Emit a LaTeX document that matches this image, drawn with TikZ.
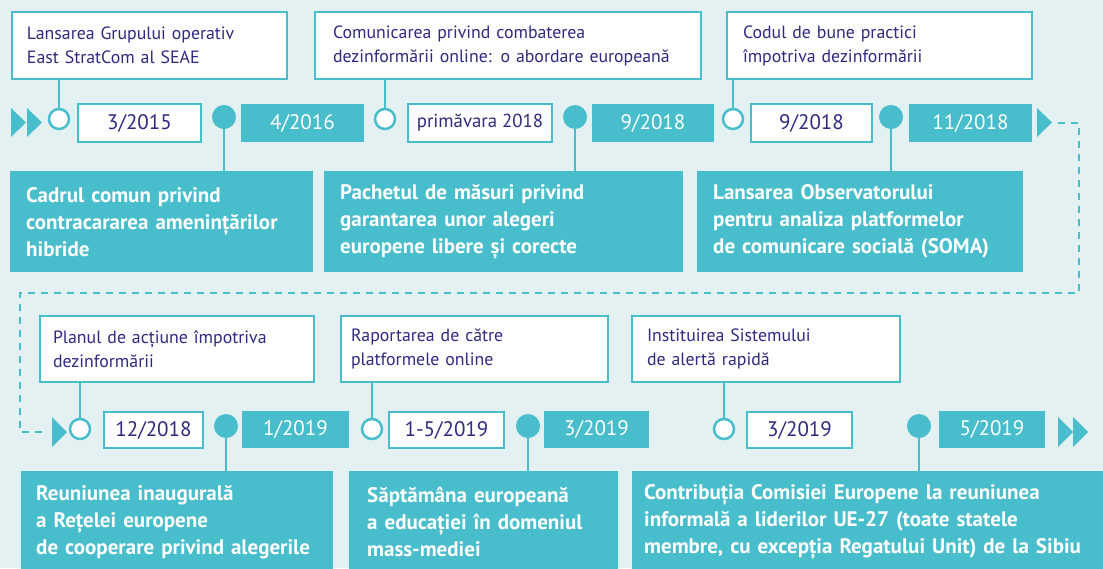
\documentclass[tikz,border=0pt]{standalone}
\usepackage{fontspec}
\setmainfont{PT Sans}
\usepackage{xcolor}
\usetikzlibrary{positioning}
\definecolor{eubrand}{HTML}{48BDCB}
\definecolor{eunavy}{HTML}{2F2A80}
\definecolor{eupaper}{HTML}{E4F1F3}
\newcommand{\evfont}{\fontsize{17.8}{24}\selectfont}
\newcommand{\actfont}{\fontsize{21}{27}\selectfont\bfseries}
\newcommand{\datefont}{\fontsize{21}{24}\selectfont}
\tikzset{every node/.style={align=center}}

\begin{document}
\begin{tikzpicture}[
    x=1pt, y=-1pt,
    evbox/.style={draw=eubrand, line width=2pt, fill=white, text=eunavy, font=\evfont,
                  align=left, anchor=north west, minimum height=67pt},
    actbox/.style={fill=eubrand, text=white, font=\actfont, align=left,
                   anchor=north west, minimum height=101pt},
    datewhite/.style={draw=eubrand, line width=2pt, fill=white, text=eunavy,
                      font=\datefont, inner sep=0pt, minimum height=38pt},
    datefill/.style={fill=eubrand, text=white, font=\datefont, inner sep=0pt,
                     minimum height=38pt},
    ring/.style={circle, draw=eubrand, line width=2.5pt, fill=white, inner sep=0pt,
                 minimum size=20pt},
    dot/.style={circle, fill=eubrand, inner sep=0pt, minimum size=24pt},
    link/.style={draw=eubrand, line width=2.5pt},
    loopline/.style={draw=eubrand, line width=2.5pt, dash pattern=on 7pt off 6pt}
]
  \fill[eupaper] (0,0) rectangle (1103,568);
  \useasboundingbox (0,0) rectangle (1103,568);
  \clip (0,0) rectangle (1103,568);

  % upper row: events above the line
  \node (w1) [evbox, inner xsep=15pt, text width=245pt] at (11,11)  {Lansarea Grupului operativ\\East StratCom al SEAE};
  \node (w2) [evbox, inner xsep=18pt, text width=350pt] at (314,11) {Comunicarea privind combaterea\\dezinformării online: o abordare europeană};
  \node (w3) [evbox, inner xsep=16pt, text width=273pt] at (726,11) {Codul de bune practici\\împotriva dezinformării};

  % upper row: actions below the line
  \node (t1) [actbox, inner xsep=16pt, text width=271pt] at (10,171)  {Cadrul comun privind\\contracararea amenințărilor\\hibride};
  \node (t2) [actbox, inner xsep=16pt, text width=327pt] at (324,171) {Pachetul de măsuri privind\\garantarea unor alegeri\\europene libere și corecte};
  \node (t3) [actbox, inner xsep=16pt, text width=294pt] at (697,171) {Lansarea Observatorului\\pentru analiza platformelor\\de comunicare socială (SOMA)};

  % upper row: dates
  \node (y1) [datewhite, minimum width=123pt] at (139.5,123) {3/2015};
  \node (y2) [datefill,  minimum width=123pt] at (302.5,123) {4/2016};
  \node (y3) [datewhite, minimum width=144pt, font=\fontsize{18.8}{22}\selectfont] at (480,123) {primăvara 2018};
  \node (y4) [datefill,  minimum width=122pt] at (653,123)   {9/2018};
  \node (y5) [datewhite, minimum width=121pt] at (811.5,123) {9/2018};
  \node (y6) [datefill,  minimum width=123pt] at (970.5,123) {11/2018};

  \node (r1) [ring] at (59,119)  {};
  \node (r2) [ring] at (385,119) {};
  \node (r3) [ring] at (733,119) {};
  \node (d1) [dot]  at (224,117) {};
  \node (d2) [dot]  at (575,117) {};
  \node (d3) [dot]  at (891,117) {};

  \foreach \k in {1,2,3} {
      \draw[link] (r\k.north) -- (r\k |- w\k.south);
      \draw[link] (d\k.south) -- (d\k |- t\k.north);
  }

  % lower row: events above the line
  \node (w4) [evbox, minimum height=66pt, inner xsep=13pt, text width=248pt] at (39,315)  {Planul de acțiune împotriva\\dezinformării};
  \node (w5) [evbox, minimum height=66pt, inner xsep=10pt, text width=247pt] at (340,315) {Raportarea de către\\platformele online};
  \node (w6) [evbox, minimum height=66pt, inner xsep=15pt, text width=238pt] at (631,315) {Instituirea Sistemului\\de alertă rapidă};

  % lower row: actions below the line
  \node (t4) [actbox, minimum height=102pt, inner xsep=15pt, text width=282pt] at (21,471)  {Reuniunea inaugurală\\a Rețelei europene\\de cooperare privind alegerile};
  \node (t5) [actbox, minimum height=102pt, inner xsep=18pt, text width=233pt] at (349,471) {Săptămâna europeană\\a educației în domeniul\\mass-mediei};
  \node (t6) [actbox, minimum height=102pt, inner xsep=12pt, text width=456pt] at (632,471) {Contribuția Comisiei Europene la reuniunea\\informală a liderilor UE-27 (toate statele\\membre, cu excepția Regatului Unit) de la Sibiu};

  % lower row: dates
  \node (y7)  [datewhite, minimum width=99pt,  minimum height=36pt] at (153.5,430) {12/2018};
  \node (y8)  [datefill,  minimum width=107pt, minimum height=37pt] at (295.5,429.5) {1/2019};
  \node (y9)  [datewhite, minimum width=115pt, minimum height=36pt] at (446.5,430) {1-5/2019};
  \node (y10) [datefill,  minimum width=105pt, minimum height=37pt] at (596.5,429.5) {3/2019};
  \node (y11) [datewhite, minimum width=105pt, minimum height=36pt] at (799.5,430) {3/2019};
  \node (y12) [datefill,  minimum width=106pt, minimum height=37pt] at (992,429.5)   {5/2019};

  \node (r4) [ring] at (80,429)  {};
  \node (r5) [ring] at (372,429) {};
  \node (r6) [ring] at (724,429) {};
  \node (d4) [dot]  at (226,426) {};
  \node (d5) [dot]  at (528,426) {};
  \node (d6) [dot]  at (919,426) {};

  \foreach \k in {4,5,6} {
      \draw[link] (r\k.north) -- (r\k |- w\k.south);
      \draw[link] (d\k.south) -- (d\k |- t\k.north);
  }

  % play marks at the ends of the line
  \foreach \tx in {11,27}
      \fill[eubrand] (\tx,108) -- ++(15,14.5) -- ++(-15,14.5) -- cycle;
  \fill[eubrand] (1037,108) -- ++(15,14.5) -- ++(-15,14.5) -- cycle;
  \fill[eubrand] (52,417) -- ++(15,15) -- ++(-15,15) -- cycle;
  \foreach \tx in {1058,1073}
      \fill[eubrand] (\tx,417) -- ++(15,15) -- ++(-15,15) -- cycle;

  % dashed return from the upper row to the lower row
  \coordinate (runout) at (1058,123);
  \coordinate (loopE)  at (1079,293);
  \coordinate (loopW)  at (20,293);
  \coordinate (runin)  at (48,432);
  \draw[loopline] (runout) -| (loopE) -- (loopW) |- (runin);
\end{tikzpicture}
\end{document}
